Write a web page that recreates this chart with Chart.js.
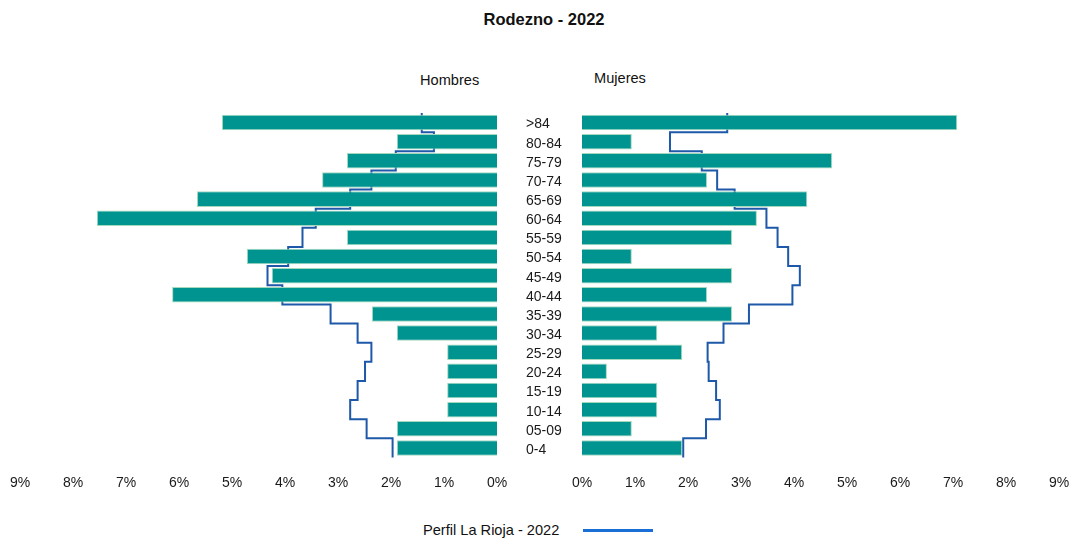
<!DOCTYPE html>
<html>
<head>
<meta charset="utf-8">
<script src="https://cdn.jsdelivr.net/npm/chart.js@4.4.1/dist/chart.umd.min.js"></script>
<style>
  html, body { margin: 0; padding: 0; background: #ffffff; }
  #wrap { position: relative; width: 1071px; height: 539px; overflow: hidden; font-family: "Liberation Sans", Arial, sans-serif; color: #111; }
  .txt { position: absolute; white-space: nowrap; line-height: 1; }
  #title { left: 0; width: 1088px; top: 11px; text-align: center; font-weight: bold; font-size: 16.5px; }
  #hombres { left: 420px; top: 73px; font-size: 14.6px; }
  #mujeres { left: 594px; top: 71px; font-size: 14.6px; }
  #legend { left: 423px; top: 523px; font-size: 14.6px; }
  #legline { position: absolute; left: 583px; top: 529px; width: 70px; height: 3px; background: #1a6fd6; }
  #cL { position: absolute; left: 0; top: 0; }
  #cR { position: absolute; left: 500px; top: 0; }
</style>
</head>
<body>
<div id="wrap">
  <div id="title" class="txt">Rodezno - 2022</div>
  <div id="hombres" class="txt">Hombres</div>
  <div id="mujeres" class="txt">Mujeres</div>
  <div id="legend" class="txt">Perfil La Rioja - 2022</div>
  <div id="legline"></div>
  <div id="cL" style="width:520px;height:539px"><canvas id="left"></canvas></div>
  <div id="cR" style="width:571px;height:539px"><canvas id="right"></canvas></div>
</div>
<script>
// ---- data (percent of population) ----
const ageGroups = ['>84','80-84','75-79','70-74','65-69','60-64','55-59','50-54','45-49','40-44','35-39','30-34','25-29','20-24','15-19','10-14','05-09','0-4'];
const hombres = [5.19,1.89,2.83,3.30,5.66,7.55,2.83,4.72,4.25,6.13,2.36,1.89,0.94,0.94,0.94,0.94,1.89,1.89];
const mujeres = [7.08,0.94,4.72,2.36,4.25,3.30,2.83,0.94,2.83,2.36,2.83,1.42,1.89,0.47,1.42,1.42,0.94,1.89];
const riojaHombres = [1.42,1.19,1.91,2.37,2.77,3.42,3.67,3.94,4.33,4.05,3.14,2.63,2.37,2.49,2.63,2.77,2.46,1.97];
const riojaMujeres = [2.74,1.66,2.26,2.55,2.88,3.48,3.69,3.89,4.11,3.97,3.15,2.67,2.37,2.39,2.53,2.60,2.34,1.91];
const xTicks = [0,1,2,3,4,5,6,7,8,9];
const refLabel = 'Perfil La Rioja - 2022';

// bars: one point per age group (index on the y axis)
function barPoints(values) { return values.map((v, i) => ({ x: v, y: i })); }
// step profile: each age group spans its whole band
function stepPoints(values) {
  const pts = [];
  values.forEach((v, i) => { pts.push({ x: v, y: i - 0.5 }); pts.push({ x: v, y: i + 0.5 }); });
  return pts;
}

const FONT = { family: '"Liberation Sans", Arial, sans-serif', size: 14 };
const TEXT = '#1a1a1a';

function makeChart(id, values, profile, reverse, showLabels, padding) {
  const yAxis = {
    type: 'linear', position: 'left', display: showLabels,
    offset: false,
    min: -0.5, max: ageGroups.length - 0.5, reverse: true,
    afterBuildTicks: (s) => { s.ticks = ageGroups.map((_, i) => ({ value: i })); },
    grid: { display: false, drawTicks: false, offset: false },
    border: { display: false },
    ticks: { color: TEXT, font: FONT, crossAlign: 'far', padding: 0, labelOffset: 2, autoSkip: false, callback: (v) => ageGroups[v] }
  };
  if (showLabels) yAxis.afterFit = (s) => { s.width = 56; };
  return new Chart(document.getElementById(id), {
    type: 'bar',
    data: {
      datasets: [
        { type: 'bar', data: barPoints(values), backgroundColor: '#009490', borderColor: '#a4d9bd', borderWidth: 1, grouped: false, barPercentage: 0.81, categoryPercentage: 1.0 },
        { type: 'line', label: refLabel, data: stepPoints(profile), borderColor: '#1e58a8', borderWidth: 2, pointRadius: 0, fill: false, tension: 0, clip: false }
      ]
    },
    options: {
      indexAxis: 'y', responsive: true, maintainAspectRatio: false, animation: false,
      layout: { padding: padding },
      plugins: { legend: { display: false }, tooltip: { enabled: false }, title: { display: false } },
      scales: {
        x: {
          type: 'linear', min: 0, max: 9, reverse: reverse,
          afterBuildTicks: (s) => { s.ticks = xTicks.map(v => ({ value: v })); },
          grid: { display: false, drawTicks: true, tickLength: 17 },
          border: { display: false },
          ticks: { padding: 0, color: TEXT, font: FONT, maxRotation: 0, autoSkip: false, callback: (v) => v + '%' },
          afterFit: (s) => { s.height = 40; }
        },
        y: yAxis
      }
    }
  });
}

makeChart('left', hombres, riojaHombres, true, false, { left: 20, right: 23, top: 113, bottom: 41.5 });
makeChart('right', mujeres, riojaMujeres, false, true, { left: 26, right: 12, top: 113, bottom: 41.5 });
</script>
</body>
</html>
